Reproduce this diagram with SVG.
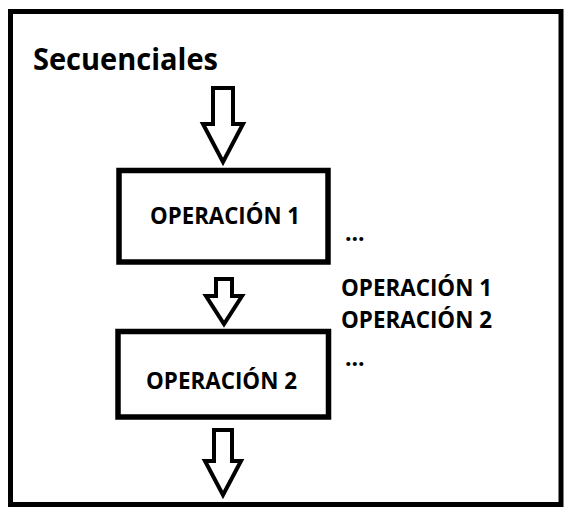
<svg xmlns="http://www.w3.org/2000/svg" width="573" height="516" viewBox="0 0 573 516">
<style>
.frame{fill:none;stroke:#000;stroke-width:5}
.box{fill:#fff;stroke:#000;stroke-width:5.5}
.arrow{fill:#fff;stroke:#000;stroke-width:4;stroke-linejoin:miter}
.t{font-family:"Open Sans","Liberation Sans",Arial,sans-serif;font-weight:bold;fill:#000}
.title{font-size:30px}
.op{font-size:23px}
</style>
<rect x="0" y="0" width="573" height="516" fill="#fff"/>
<rect class="frame" x="10.5" y="11.5" width="550.5" height="493"/>
<text class="t title" x="33" y="70" textLength="185" lengthAdjust="spacingAndGlyphs">Secuenciales</text>
<g id="connectors">
<polygon class="arrow" points="213,88 233,88 233,124 243,124 223,162 203,124 213,124"/>
<polygon class="arrow" points="216,279 232,279 232,296 242,296 224,324 206,296 216,296"/>
<polygon class="arrow" points="214,430 232,430 232,461 241,461 223,495 205,461 214,461"/>
</g>
<g id="op1">
<rect class="box" x="119" y="170.5" width="209" height="91.5"/>
<text class="t op" x="150" y="223.5" textLength="150" lengthAdjust="spacingAndGlyphs">OPERACIÓN 1</text>
</g>
<g id="op2">
<rect class="box" x="118" y="331.5" width="210.5" height="85.5"/>
<text class="t op" x="146" y="388.5" textLength="151" lengthAdjust="spacingAndGlyphs">OPERACIÓN 2</text>
</g>
<g id="notes">
<text class="t op" x="345" y="241">...</text>
<text class="t op" x="341" y="295.5" textLength="151" lengthAdjust="spacingAndGlyphs">OPERACIÓN 1</text>
<text class="t op" x="341" y="327.5" textLength="151" lengthAdjust="spacingAndGlyphs">OPERACIÓN 2</text>
<text class="t op" x="345" y="366">...</text>
</g>
</svg>
